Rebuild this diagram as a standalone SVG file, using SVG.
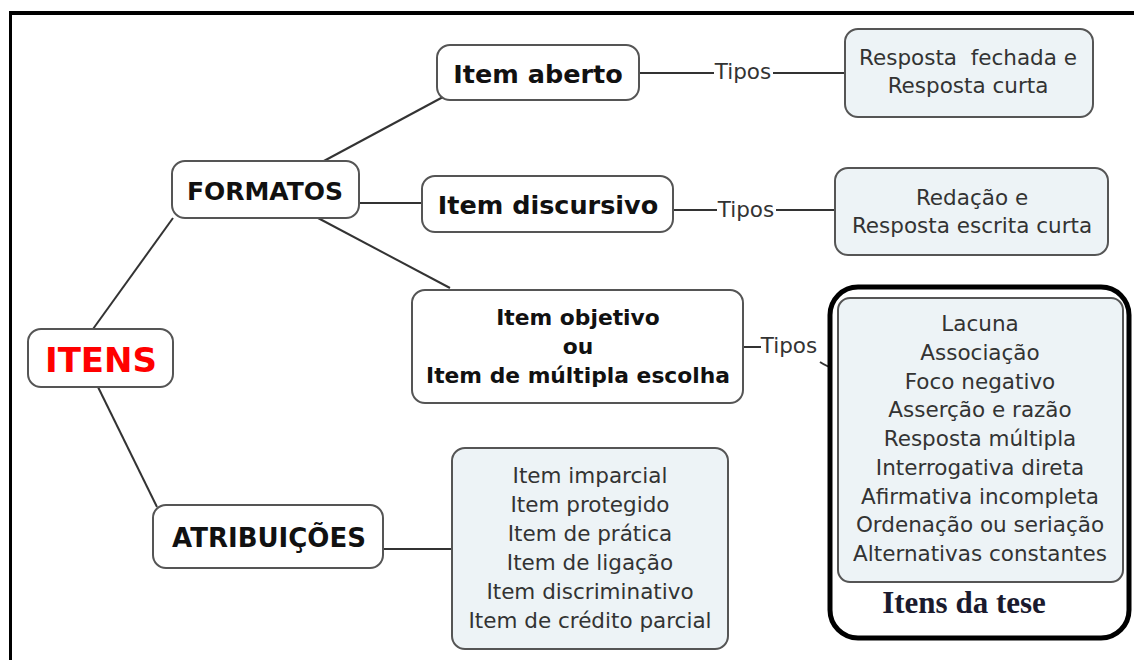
<svg xmlns="http://www.w3.org/2000/svg" width="1134" height="660" viewBox="0 0 1134 660">
<style>
.node{fill:#ffffff;stroke:#555;stroke-width:2}
.leaf{fill:#edf3f6;stroke:#555;stroke-width:2}
.b{font-family:"DejaVu Sans",Verdana,sans-serif;font-weight:bold;fill:#111;text-anchor:middle}
.r{font-family:"DejaVu Sans",Verdana,sans-serif;fill:#333;text-anchor:middle;font-size:21.5px}
.conn line,.conn path{stroke:#333;stroke-width:2;fill:none}
</style>
<rect width="1134" height="660" fill="#fff"/>
<g id="frame">
<line x1="9" y1="13" x2="1134" y2="13" stroke="#000" stroke-width="4"/>
<line x1="10.5" y1="11" x2="10.5" y2="660" stroke="#000" stroke-width="3"/>
</g>
<g class="conn" id="connectors">
<line x1="93" y1="329" x2="173" y2="218"/>
<line x1="98" y1="387" x2="157" y2="507"/>
<line x1="322" y1="162" x2="443" y2="97"/>
<line x1="359" y1="203" x2="422" y2="203"/>
<line x1="318" y1="218" x2="450" y2="288"/>
<line x1="383" y1="549" x2="452" y2="549"/>
<line x1="639" y1="73" x2="714" y2="73"/>
<line x1="773" y1="73" x2="845" y2="73"/>
<line x1="673" y1="210" x2="717" y2="210"/>
<line x1="776" y1="210" x2="835" y2="210"/>
<line x1="743" y1="347" x2="761" y2="347"/>
<path d="M820,362 Q826,366 837,370"/>
</g>
<g id="tipos-labels">
<text class="r" x="743" y="79">Tipos</text>
<text class="r" x="746" y="217">Tipos</text>
<text class="r" x="789" y="353">Tipos</text>
</g>
<g id="itens">
<rect class="node" x="28" y="329" width="145" height="58" rx="13"/>
<text class="b" x="101" y="372" font-size="34" style="fill:#ff0000">ITENS</text>
</g>
<g id="formatos">
<rect class="node" x="172" y="161" width="187" height="57" rx="13"/>
<text class="b" x="265" y="200" font-size="25">FORMATOS</text>
</g>
<g id="atribuicoes">
<rect class="node" x="153" y="505" width="230" height="63" rx="13"/>
<text class="b" x="269" y="547" font-size="26">ATRIBUIÇÕES</text>
</g>
<g id="item-aberto">
<rect class="node" x="437" y="45" width="202" height="55" rx="13"/>
<text class="b" x="538" y="83" font-size="25.5">Item aberto</text>
</g>
<g id="item-discursivo">
<rect class="node" x="422" y="176" width="251" height="56" rx="13"/>
<text class="b" x="548" y="214" font-size="25.5">Item discursivo</text>
</g>
<g id="item-objetivo">
<rect class="node" x="412" y="290" width="331" height="113" rx="13"/>
<text class="b" x="578" y="325" font-size="21.8">Item objetivo</text>
<text class="b" x="578" y="354" font-size="21.8">ou</text>
<text class="b" x="578" y="383" font-size="21.8">Item de múltipla escolha</text>
</g>
<g id="resposta-fechada">
<rect class="leaf" x="845" y="29" width="248" height="88" rx="13"/>
<text class="r" x="968" y="65" xml:space="preserve">Resposta  fechada e</text>
<text class="r" x="968" y="93">Resposta curta</text>
</g>
<g id="redacao">
<rect class="leaf" x="835" y="168" width="273" height="87" rx="13"/>
<text class="r" x="972" y="205">Redação e</text>
<text class="r" x="972" y="233">Resposta escrita curta</text>
</g>
<g id="atribuicoes-lista">
<rect class="leaf" x="452" y="448" width="276" height="201" rx="13"/>
<text class="r" x="590" y="483">Item imparcial</text>
<text class="r" x="590" y="512">Item protegido</text>
<text class="r" x="590" y="541">Item de prática</text>
<text class="r" x="590" y="570">Item de ligação</text>
<text class="r" x="590" y="599">Item discriminativo</text>
<text class="r" x="590" y="628">Item de crédito parcial</text>
</g>
<g id="itens-da-tese">
<rect x="830" y="287" width="299" height="351" rx="28" fill="#fff" stroke="#000" stroke-width="5"/>
<rect class="leaf" x="838" y="298" width="285" height="284" rx="12"/>
<text class="r" x="980" y="331">Lacuna</text>
<text class="r" x="980" y="360">Associação</text>
<text class="r" x="980" y="389">Foco negativo</text>
<text class="r" x="980" y="417">Asserção e razão</text>
<text class="r" x="980" y="446">Resposta múltipla</text>
<text class="r" x="980" y="475">Interrogativa direta</text>
<text class="r" x="980" y="504">Afirmativa incompleta</text>
<text class="r" x="980" y="532">Ordenação ou seriação</text>
<text class="r" x="980" y="561">Alternativas constantes</text>
<text x="964" y="613" font-size="31" font-family="'Liberation Serif','Times New Roman',serif" font-weight="bold" fill="#1a1a2e" text-anchor="middle">Itens da tese</text>
</g>
</svg>
